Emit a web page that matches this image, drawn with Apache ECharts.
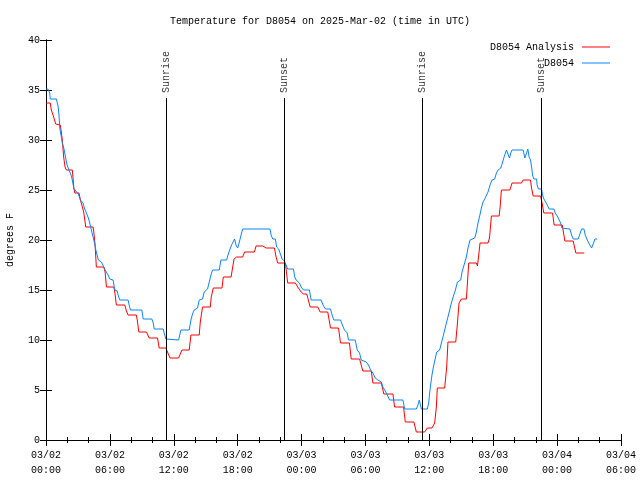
<!DOCTYPE html>
<html>
<head>
<meta charset="utf-8">
<script src="https://cdn.jsdelivr.net/npm/echarts@6/dist/echarts.min.js"></script>
<style>html,body{margin:0;padding:0;background:#fff}#c{width:640px;height:480px}</style>
</head>
<body>
<div id="c"></div>
<script>
// hours since 03/02 00:00 UTC
const redH = [0,0.4,0.5,0.72,0.91,1.34,1.44,1.53,1.66,1.79,
1.91,2.47,2.54,2.61,2.70,3.10,3.23,3.54,3.67,3.73,
4.42,4.49,4.61,4.68,4.73,5.43,5.55,5.68,6.37,6.46,
6.61,7.40,7.55,7.71,8.48,8.57,8.72,9.44,9.69,10.47,
10.63,11.26,11.38,11.64,12.45,12.77,13.45,13.61,14.39,14.49,
14.70,15.43,15.52,15.71,16.53,16.65,17.38,17.66,17.90,18.47,
18.65,19.57,19.73,20.35,20.67,21.45,21.61,21.76,22.48,22.70,
23.42,23.64,23.96,24.18,24.49,24.81,25.52,25.75,26.46,26.72,
27.47,27.66,28.50,28.66,29.45,29.76,30.55,30.70,31.49,31.73,
32.58,32.74,33.58,33.74,34.55,34.78,35.56,35.81,36.25,36.50,
36.66,36.75,37.44,37.53,37.63,37.75,38.48,38.64,38.79,39.01,
39.48,39.57,39.70,40.42,40.52,40.64,40.76,41.51,41.65,41.83,
42.55,42.64,42.77,43.56,43.77,44.66,44.81,45.50,45.60,45.75,
46.44,46.57,46.75,47.57,47.72,48.48,48.73,49.51,49.76,50.55];
const redT = [33.7,33.7,33.0,32.3,31.6,31.5,30.8,30.0,28.3,27.3,
27.0,27.0,26.2,25.2,24.7,24.7,24.0,22.8,21.8,21.3,
21.3,20.8,19.5,18.2,17.3,17.3,16.8,15.3,15.3,14.8,
13.5,13.5,12.9,12.5,12.5,12.0,10.8,10.8,10.2,10.2,
9.2,9.2,9.0,8.2,8.2,9.0,9.0,10.5,10.5,11.8,
13.3,13.3,14.3,15.2,15.2,16.3,16.3,18.1,18.3,18.3,
18.8,18.8,19.4,19.4,19.2,19.2,18.3,17.7,17.7,15.7,
15.7,15.3,14.8,14.6,14.6,13.3,13.3,12.8,12.8,11.2,
11.2,9.7,9.7,8.1,8.1,6.9,6.9,5.7,5.7,4.6,
4.6,3.3,3.3,1.8,1.8,0.8,0.8,1.2,1.2,1.7,
3.3,5.2,5.2,5.0,7.3,9.8,9.8,11.7,13.7,14.1,
14.1,13.9,17.7,17.7,17.4,18.5,19.7,19.7,20.2,22.4,
22.4,23.2,25.0,25.0,25.7,25.7,26.0,26.0,25.2,24.4,
24.4,23.8,22.7,22.7,21.5,21.5,19.9,19.9,18.7,18.7];

const blueH = [0,0.19,0.35,0.40,0.97,1.13,1.22,1.29,1.44,1.53,
1.67,1.85,1.98,2.16,2.35,2.47,2.61,2.79,3.04,3.23,
3.48,3.60,3.79,3.98,4.11,4.26,4.42,4.58,4.68,4.80,
4.92,5.20,5.43,5.55,5.83,5.99,6.30,6.46,6.68,6.80,
6.93,7.71,7.81,7.93,9.00,9.13,9.94,10.07,10.16,11.01,
11.10,11.26,11.32,12.45,12.67,13.45,13.61,13.76,13.92,14.23,
14.39,14.70,14.86,15.17,15.33,15.49,15.64,16.27,16.43,16.96,
17.15,17.28,17.47,17.59,17.71,17.84,18.00,18.16,18.32,18.47,
21.04,21.14,21.29,21.54,21.66,21.85,21.98,22.17,22.39,22.55,
22.70,23.24,23.36,23.49,23.80,23.96,24.18,24.74,24.90,25.84,
26.06,26.25,26.72,26.84,27.03,27.66,27.87,28.03,28.29,28.41,
29.04,29.23,29.45,29.60,30.07,30.29,30.48,30.70,30.92,31.17,
31.49,31.64,31.86,32.05,32.27,33.52,33.68,34.78,34.93,35.06,
35.25,35.81,35.94,36.03,36.12,36.25,36.38,36.57,36.69,36.97,
37.13,37.28,37.44,37.60,37.75,37.91,38.07,38.26,38.45,38.64,
38.79,38.95,39.07,39.26,39.48,39.63,39.82,40.26,40.42,40.57,
40.73,40.89,41.04,41.20,41.36,41.51,41.70,41.89,42.14,42.30,
42.46,42.71,42.83,43.02,43.24,43.37,43.53,43.65,43.77,44.81,
44.97,45.13,45.25,45.37,45.50,45.63,45.69,45.81,46.07,46.12,
46.25,46.54,46.63,46.76,46.88,47.07,47.25,47.70,47.82,48.01,
48.19,48.33,48.45,48.51,49.20,49.36,49.51,49.98,50.14,50.30,
50.52,50.64,50.83,51.02,51.24,51.33,51.46,51.55,51.77];
const blueT = [35.1,35.1,34.7,34.1,34.1,33.4,32.5,31.2,30.3,29.7,
29.2,28.2,27.5,27.0,26.5,26.0,25.2,24.9,24.6,24.0,
23.7,23.2,22.7,22.2,21.7,21.0,20.3,19.6,19.0,18.5,
18.0,17.8,17.3,17.0,16.5,16.1,16.0,15.0,14.9,14.4,
14.0,14.0,13.5,13.0,13.0,12.1,12.1,11.7,11.1,11.1,
10.7,10.1,10.0,10.0,11.0,11.0,12.0,12.6,13.0,13.2,
14.0,14.1,14.8,15.1,15.8,16.5,17.0,17.0,18.0,18.0,
18.7,19.1,19.6,19.7,20.1,19.5,19.2,19.8,20.5,21.1,
21.1,20.5,20.1,20.1,19.3,19.1,18.7,18.1,17.9,17.7,
17.1,17.1,16.3,16.0,15.7,15.3,15.0,15.0,14.0,14.0,
13.4,13.1,13.1,12.6,12.0,12.0,11.4,11.0,10.7,10.0,
10.0,9.0,8.7,8.0,7.8,7.5,7.0,6.7,6.2,6.0,
5.8,5.3,4.9,4.5,4.0,4.0,3.1,3.1,3.5,4.0,
3.1,3.1,3.7,4.7,5.5,6.5,7.3,8.2,8.8,9.0,
9.7,10.3,11.0,11.7,12.3,13.0,13.7,14.4,15.0,15.8,
16.0,16.0,16.8,17.5,18.3,19.2,20.0,20.2,20.8,21.7,
22.4,23.2,23.8,24.1,24.2,24.8,25.5,26.0,26.1,26.7,
27.0,27.2,27.6,28.3,29.0,29.0,28.2,28.7,29.0,29.0,
28.2,28.7,29.1,28.3,28.0,27.1,26.5,26.1,26.1,25.5,
25.1,25.1,24.5,24.1,24.1,23.5,23.1,23.1,22.7,22.4,
22.0,21.7,21.2,21.1,21.1,20.5,20.1,20.1,20.6,21.1,
21.1,20.5,20.0,19.6,19.2,19.0,19.8,20.1,20.1];

const sunH = [11.30, 22.42, 35.34, 46.50];
const sunNames = ['Sunrise', 'Sunset', 'Sunrise', 'Sunset'];
const sunLineTop = 34.2;
const sunLabelAt = 34.7;

const seriesNames = ['D8054 Analysis', 'D8054'];
const titleText = 'Temperature for D8054 on 2025-Mar-02 (time in UTC)';
const yName = 'degrees F';

const FONT = 'Liberation Mono, DejaVu Sans Mono, monospace';
const pad = n => (n < 10 ? '0' : '') + n;
function xLabel(v) {
  const day = 2 + Math.floor(v / 24);
  const hr = Math.round(v % 24);
  return '03/' + pad(day) + '\n' + pad(hr) + ':00';
}

const chart = echarts.init(document.getElementById('c'), null, {renderer: 'canvas'});
const axisBase = {
  axisLine: {show: true, lineStyle: {color: '#000', width: 1}},
  splitLine: {show: false}
};
const lineIcon = 'path://M0,0H28V1H0Z';
chart.setOption({
  animation: false,
  backgroundColor: '#fff',
  title: {
    text: titleText, left: 'center', top: 11,
    textStyle: {fontSize: 10, fontWeight: 'normal', fontFamily: FONT, color: '#000'}
  },
  legend: {
    data: seriesNames.map(n => ({name: n, icon: lineIcon})),
    orient: 'vertical', right: 30, top: 42, align: 'right', padding: 0,
    itemWidth: 28, itemHeight: 1, itemGap: 6,
    textStyle: {fontSize: 10, fontFamily: FONT, color: '#000', padding: [0, 3, 0, 0]}
  },
  grid: {left: 46, right: 19, top: 40, bottom: 40, show: false, containLabel: false, outerBoundsMode: 'none'},
  xAxis: [
    Object.assign({}, axisBase, {
      type: 'value', min: 0, max: 54, interval: 6, position: 'bottom',
      axisTick: {show: true, inside: true, length: 6, lineStyle: {color: '#000'}},
      minorTick: {show: true, splitNumber: 3, length: 3, lineStyle: {color: '#000'}},
      minorSplitLine: {show: false},
      axisLabel: {formatter: xLabel, fontSize: 10, fontFamily: FONT, color: '#000', margin: 8, lineHeight: 15, showMinLabel: true, showMaxLabel: true}
    }),
    Object.assign({}, axisBase, {
      type: 'value', min: 0, max: 54, interval: 6, position: 'top',
      axisTick: {show: true, inside: true, length: 6, lineStyle: {color: '#000'}},
      minorTick: {show: true, splitNumber: 3, length: 3, lineStyle: {color: '#000'}},
      minorSplitLine: {show: false},
      axisLabel: {show: false}
    })
  ],
  yAxis: [
    Object.assign({}, axisBase, {
      type: 'value', min: 0, max: 40, interval: 5, position: 'left',
      axisTick: {show: true, inside: true, length: 6, lineStyle: {color: '#000'}},
      axisLabel: {fontSize: 10, fontFamily: FONT, color: '#000', margin: 6},
      name: yName, nameLocation: 'middle', nameGap: 31, nameRotate: 90,
      nameTextStyle: {fontSize: 10, fontFamily: FONT, color: '#000'}
    }),
    Object.assign({}, axisBase, {
      type: 'value', min: 0, max: 40, interval: 5, position: 'right',
      axisTick: {show: true, inside: true, length: 6, lineStyle: {color: '#000'}},
      axisLabel: {show: false}
    })
  ],
  series: [
    {
      name: seriesNames[0], type: 'line', symbol: 'none', showSymbol: false,
      data: redH.map((h, i) => [h, redT[i]]),
      lineStyle: {color: '#ff0000', width: 1}, itemStyle: {color: '#ff0000'},
      z: 3,
      markLine: {
        silent: true, symbol: 'none', label: {show: false},
        lineStyle: {color: '#000', width: 1, type: 'solid'},
        data: sunH.map(h => [{coord: [h, 0]}, {coord: [h, sunLineTop]}])
      }
    },
    {
      name: seriesNames[1], type: 'line', symbol: 'none', showSymbol: false,
      data: blueH.map((h, i) => [h, blueT[i]]),
      lineStyle: {color: '#0a84ff', width: 1}, itemStyle: {color: '#0a84ff'},
      z: 4
    },
    {
      name: 'sunlabels', type: 'scatter', symbolSize: 1,
      itemStyle: {color: 'rgba(0,0,0,0)'},
      data: sunH.map((h, i) => ({value: [h, sunLabelAt], name: sunNames[i]})),
      label: {
        show: true, formatter: '{b}', rotate: 90, position: 'inside',
        align: 'left', verticalAlign: 'middle',
        fontSize: 10, fontFamily: FONT, color: '#000'
      },
      silent: true, z: 5
    }
  ]
});
</script>
</body>
</html>
